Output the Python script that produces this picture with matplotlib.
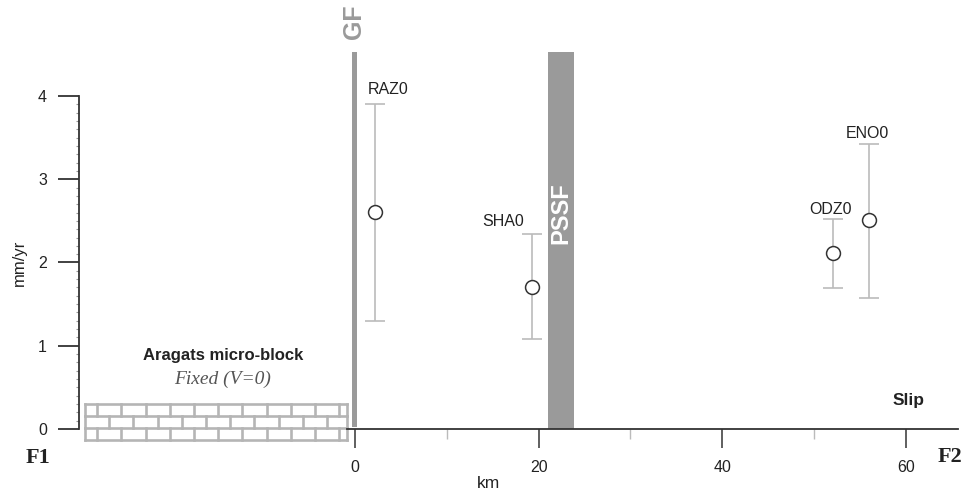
import numpy as np
import matplotlib
matplotlib.use("Agg")
import matplotlib.pyplot as plt
from matplotlib.ticker import FixedLocator

plt.rcParams['font.family'] = ['Liberation Sans', 'DejaVu Sans']

# GPS stations along the profile
stations = ['RAZ0', 'SHA0', 'ODZ0', 'ENO0']
dist_km = [2.2, 19.3, 52.05, 56.0]
rate = [2.61, 1.71, 2.11, 2.51]        # mm/yr
rate_hi = [3.90, 2.34, 2.52, 3.42]
rate_lo = [1.30, 1.08, 1.69, 1.57]

# faults crossed by the profile
faults = ['GF', 'PSSF']
fault_left = [-0.36, 21.0]
fault_right = [0.19, 23.8]
fault_bottom = [0.025, 0.0]
fault_top = 4.53

y_ticks = [0, 1, 2, 3, 4]
x_ticks = [0, 20, 40, 60]
x_minor = [10, 30, 50]

# label offsets (points) for the station names
label_off = {'RAZ0': (9, 11), 'SHA0': (-21, 9), 'ODZ0': (-2, 7), 'ENO0': (-1, 8)}

grey = '#999999'
dark = '#333333'

fig = plt.figure(figsize=(9.64, 4.96), dpi=100)
ax = fig.add_axes([79 / 964, 67 / 496, 879 / 964, 429 / 496])
ax.set_xlim(-30.06, 65.67)
ax.set_ylim(0, 5.153)

# axes styling
for s in ['top', 'right']:
    ax.spines[s].set_visible(False)
ax.spines['left'].set_bounds(0, 4)
ax.spines['bottom'].set_bounds(-0.9, 65.67)
for s in ['left', 'bottom']:
    ax.spines[s].set_color(dark)
    ax.spines[s].set_linewidth(1.3)

ax.yaxis.set_major_locator(FixedLocator(y_ticks))
ax.yaxis.set_minor_locator(FixedLocator(np.arange(0, 4.001, 0.1)))
ax.xaxis.set_major_locator(FixedLocator(x_ticks))
ax.xaxis.set_minor_locator(FixedLocator(x_minor))
ax.tick_params(axis='y', which='major', direction='out', length=15, width=1.3,
               color=dark, pad=8, labelsize=11.5, labelcolor='#222222')
ax.tick_params(axis='y', which='minor', direction='out', length=2.5, width=0.8, color=grey)
ax.tick_params(axis='x', which='major', direction='out', length=14, width=1.2,
               color='#444444', pad=8, labelsize=11.5, labelcolor='#222222')
ax.tick_params(axis='x', which='minor', direction='out', length=7, width=1, color='#bbbbbb')

ax.text(-36.6, 2.0, 'mm/yr', rotation=90, ha='center', va='center', fontsize=12,
        color='#222222', clip_on=False)
ax.text(14.5, -0.65, 'km', ha='center', va='center', fontsize=12.5, color='#222222', clip_on=False)

# fault zones
for name, l, r, b in zip(faults, fault_left, fault_right, fault_bottom):
    ax.bar((l + r) / 2, fault_top - b, width=r - l, bottom=b, color='#9a9a9a', zorder=2)
ax.text((fault_left[0] + fault_right[0]) / 2, 4.89, faults[0], rotation=90, ha='center',
        va='center', fontsize=18, fontweight='bold', color='#9a9a9a')
ax.text((fault_left[1] + fault_right[1]) / 2, 2.59, faults[1], rotation=90, ha='center',
        va='center', fontsize=17, fontweight='bold', color='white', zorder=3)

# brick wall for the fixed block
b_left, b_right = -29.40, -0.87
b_w, b_h, b_top = 2.635, 0.144, 0.30
brick_kw = dict(color='#b5b5b5', lw=1.9, clip_on=False, zorder=1)
for i in range(4):
    yy = b_top - i * b_h
    ax.plot([b_left, b_right], [yy, yy], **brick_kw)
for r in range(3):
    y1, y0 = b_top - r * b_h, b_top - (r + 1) * b_h
    xs = [b_left] + list(np.arange(b_left + (b_w / 2 if r % 2 == 0 else b_w), b_right, b_w)) + [b_right]
    for xv in xs:
        ax.plot([xv, xv], [y0, y1], **brick_kw)

ax.text(-14.4, 0.877, 'Aragats micro-block', ha='center', va='center', fontsize=12,
        fontweight='bold', color='#222222')
ax.text(-14.4, 0.60, 'Fixed (V=0)', ha='center', va='center', fontsize=14, style='italic',
        family='Liberation Serif', color='#555555')

# velocities with error bars
yerr = [np.subtract(rate, rate_lo), np.subtract(rate_hi, rate)]
ax.errorbar(dist_km, rate, yerr=yerr, fmt='none', ecolor='#bbbbbb', elinewidth=1.2,
            capsize=7, capthick=1.2, zorder=3)
ax.plot(dist_km, rate, 'o', ms=10, mfc='white', mec='#333333', mew=1.1, zorder=4)
for name, x, top in zip(stations, dist_km, rate_hi):
    ax.annotate(name, (x, top), xytext=label_off[name], textcoords='offset points',
                ha='center', va='center', fontsize=11.5, color='#222222')

ax.text(60.3, 0.34, 'Slip', ha='center', va='center', fontsize=12.5, fontweight='bold',
        color='#222222')

fig.text(38 / 964, 1 - 458 / 496, 'F1', ha='center', va='center', fontsize=16,
         fontweight='bold', family='Liberation Serif', color='#222222')
fig.text(962 / 964, 1 - 457 / 496, 'F2', ha='right', va='center', fontsize=16,
         fontweight='bold', family='Liberation Serif', color='#222222')

fig.savefig('out.png', dpi=100)
